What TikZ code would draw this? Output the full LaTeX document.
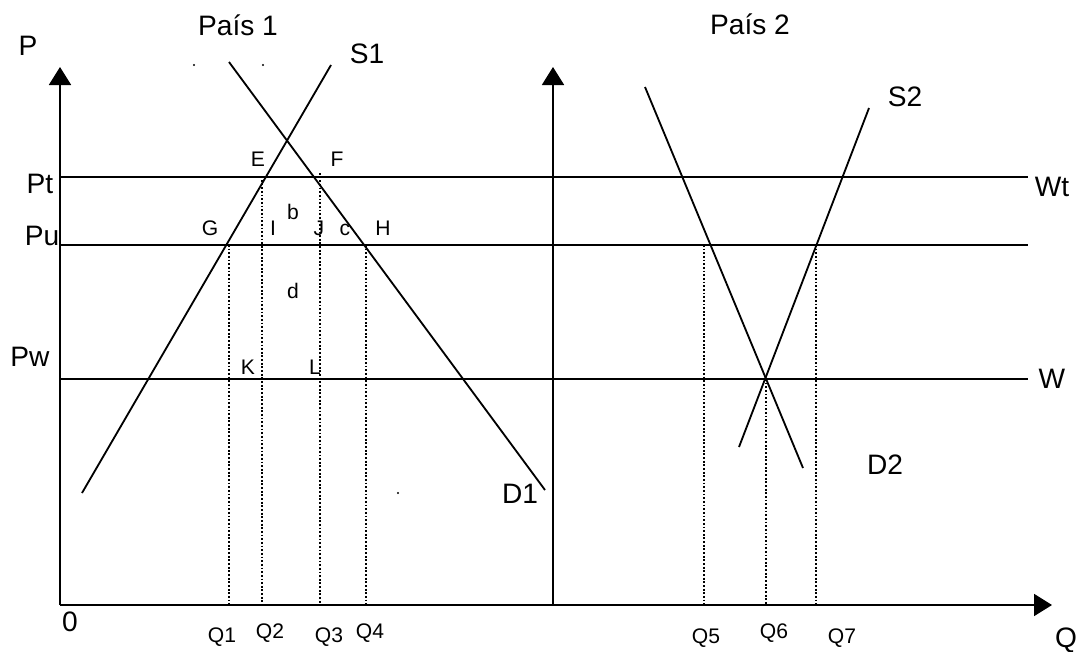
\documentclass[tikz,border=0pt]{standalone}
\usepackage{fontspec}
\setmainfont{Liberation Sans}
\usetikzlibrary{arrows.meta}
\begin{document}
\begin{tikzpicture}[x=0.025cm, y=-0.025cm, line width=1.3pt,
    big/.style={font=\fontsize{20}{22}\selectfont, inner sep=0pt},
    tag/.style={font=\fontsize{15}{17}\selectfont, inner sep=0pt},
    qtag/.style={font=\fontsize{15}{17}\selectfont, inner sep=0pt},
    guide/.style={line width=1.1pt, dash pattern=on 1.3pt off 1.3pt},
    axis/.style={-{Triangle[length=0.45cm, width=0.55cm]}}]
    \useasboundingbox (0,0) rectangle (1090,651);

    % Define the axes
    \coordinate (O1) at (60,605);
    \coordinate (T1) at (60,67);
    \coordinate (O2) at (553,605);
    \coordinate (T2) at (553,67);
    \coordinate (QE) at (1052,605);

    % Define the price levels
    \coordinate (PtL) at (60,177);
    \coordinate (PtR) at (1028,177);
    \coordinate (PuL) at (60,245);
    \coordinate (PuR) at (1028,245);
    \coordinate (PwL) at (60,379);
    \coordinate (PwR) at (1028,379);

    % Define the curves of country 1 and country 2
    \coordinate (S1a) at (82,493);
    \coordinate (S1b) at (331,65);
    \coordinate (D1a) at (229,62);
    \coordinate (D1b) at (545,490);
    \coordinate (S2a) at (739,447);
    \coordinate (S2b) at (869,108);
    \coordinate (D2a) at (645,87);
    \coordinate (D2b) at (803,468);

    % Draw the axes
    \draw[axis] (O1) -- (T1);
    \draw[axis] (O2) -- (T2);
    \draw[axis] (O1) -- (QE);

    % Draw the price lines
    \draw (PtL) -- (PtR);
    \draw (PuL) -- (PuR);
    \draw (PwL) -- (PwR);

    % Draw supply and demand
    \draw (S1a) -- (S1b);
    \draw (D1a) -- (D1b);
    \draw (S2a) -- (S2b);
    \draw (D2a) -- (D2b);

    % Draw the dotted quantity lines
    \draw[guide] (229,245) -- (229,605);
    \draw[guide] (262,180) -- (262,605);
    \draw[guide] (320,173) -- (320,605);
    \draw[guide] (366,245) -- (366,605);
    \draw[guide] (704,245) -- (704,605);
    \draw[guide] (766,379) -- (766,605);
    \draw[guide] (816,245) -- (816,605);

    % Stray dots
    \fill (194,65) circle[radius=1.2];
    \fill (263,65) circle[radius=1.2];
    \fill (398,493) circle[radius=1.2];

    % Place the labels
    \node[big] (P) at (28,46) {P};
    \node[big] (pais1) at (238,25) {País 1};
    \node[big] (pais2) at (750,24) {País 2};
    \node[big] (s1) at (367,54) {S1};
    \node[big] (s2) at (905,97) {S2};
    \node[big] (d1) at (520,494) {D1};
    \node[big] (d2) at (885,465) {D2};
    \node[big] (pt) at (40,184) {Pt};
    \node[big] (pu) at (42,236) {Pu};
    \node[big] (pw) at (30,357) {Pw};
    \node[big] (wt) at (1052,187) {Wt};
    \node[big] (w) at (1052,379) {W};
    \node[big] (zero) at (70,622) {0};
    \node[big] (Q) at (1066,640) {Q};

    \node[tag] (E) at (258,159) {E};
    \node[tag] (F) at (337,159) {F};
    \node[tag] (G) at (210,228) {G};
    \node[tag] (I) at (273,228) {I};
    \node[tag] (b) at (293,212) {b};
    \node[tag] (J) at (319,228) {J};
    \node[tag] (c) at (345,230) {c};
    \node[tag] (H) at (383,228) {H};
    \node[tag] (d) at (293,291) {d};
    \node[tag] (K) at (248,367) {K};
    \node[tag] (L) at (315,367) {L};

    \node[qtag] (q1) at (222,637) {Q1};
    \node[qtag] (q2) at (270,633) {Q2};
    \node[qtag] (q3) at (329,637) {Q3};
    \node[qtag] (q4) at (370,633) {Q4};
    \node[qtag] (q5) at (706,638) {Q5};
    \node[qtag] (q6) at (774,633) {Q6};
    \node[qtag] (q7) at (842,638) {Q7};
\end{tikzpicture}
\end{document}
